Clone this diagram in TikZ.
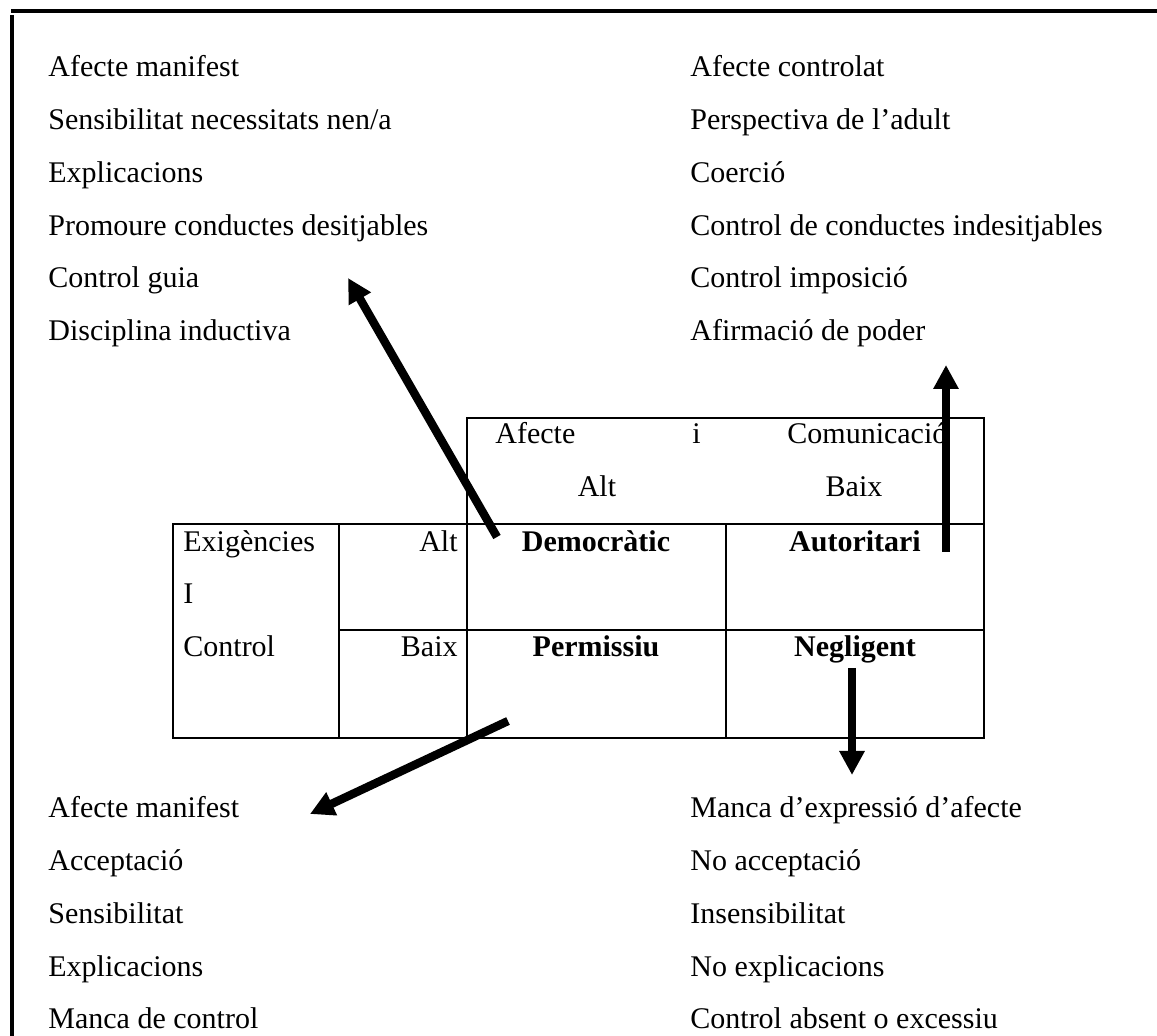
\documentclass[tikz,border=0pt]{standalone}
\usepackage{fontspec}
\setmainfont{Liberation Serif}
\usetikzlibrary{arrows.meta}
\begin{document}
\begin{tikzpicture}[x=0.5pt,y=-0.5pt,
  txt/.style={anchor=base west,inner sep=0pt,font=\fontsize{15}{18}\selectfont},
  rtxt/.style={txt,anchor=base east},
  ctxt/.style={txt,anchor=base},
  btxt/.style={ctxt,font=\fontsize{15}{18}\selectfont\bfseries},
  frame/.style={line width=2pt},
  grid/.style={line width=1pt},
  bigarrow/.style={line width=4.2pt,-{Triangle[length=12pt,width=12pt]}}]
\useasboundingbox (0,0) rectangle (1157,1036);

% page frame
\draw[frame] (11,11) -- (1157,11);
\draw[frame] (12,15) -- (12,1036);

% upper left list
\foreach \t [count=\i from 0] in {Afecte manifest,Sensibilitat necessitats nen/a,Explicacions,Promoure conductes desitjables,Control guia,Disciplina inductiva}
  \node[txt] (ul\i) at (48,{77+52.7*\i}) {\t};

% upper right list
\foreach \t [count=\i from 0] in {Afecte controlat,Perspectiva de l’adult,Coerció,Control de conductes indesitjables,Control imposició,Afirmació de poder}
  \node[txt] (ur\i) at (690,{77+52.7*\i}) {\t};

% lower left list
\foreach \t [count=\i from 0] in {Afecte manifest,Acceptació,Sensibilitat,Explicacions,Manca de control}
  \node[txt] (ll\i) at (48,{818+52.7*\i}) {\t};

% lower right list
\foreach \t [count=\i from 0] in {Manca d’expressió d’afecte,No acceptació,Insensibilitat,No explicacions,Control absent o excessiu}
  \node[txt] (lr\i) at (690,{818+52.7*\i}) {\t};

% table grid
\draw[grid] (467,418) rectangle (984,524);
\draw[grid] (173,524) rectangle (984,738);
\draw[grid] (339,524) -- (339,738);
\draw[grid] (467,524) -- (467,738);
\draw[grid] (726,524) -- (726,738);
\draw[grid] (339,630) -- (984,630);

% column header
\node[txt] (hA) at (495,444) {Afecte};
\node[txt] (hi) at (692,444) {i};
\node[txt] (hC) at (787,444) {Comunicació};
\node[ctxt] (hAlt) at (597,497) {Alt};
\node[ctxt] (hBaix) at (854,497) {Baix};

% row header
\node[txt] (rE) at (183,552) {Exigències};
\node[txt] (rI) at (183,604) {I};
\node[txt] (rC) at (183,657) {Control};
\node[rtxt] (rAlt) at (458,552) {Alt};
\node[rtxt] (rBaix) at (458,657) {Baix};

% styles
\node[btxt] (dem) at (596,552) {Democràtic};
\node[btxt] (aut) at (855,552) {Autoritari};
\node[btxt] (per) at (596,657) {Permissiu};
\node[btxt] (neg) at (855,657) {Negligent};

% arrows from each style to its traits
\coordinate (demT) at (497,537);
\coordinate (demH) at (348,278);
\coordinate (autT) at (946,552);
\coordinate (autH) at (946,365);
\coordinate (perT) at (508,721);
\coordinate (perH) at (310,814);
\coordinate (negT) at (852,668);
\coordinate (negH) at (852,775);
\draw[bigarrow] (demT) -- (demH);
\draw[bigarrow] (autT) -- (autH);
\draw[bigarrow] (perT) -- (perH);
\draw[bigarrow] (negT) -- (negH);
\end{tikzpicture}
\end{document}
